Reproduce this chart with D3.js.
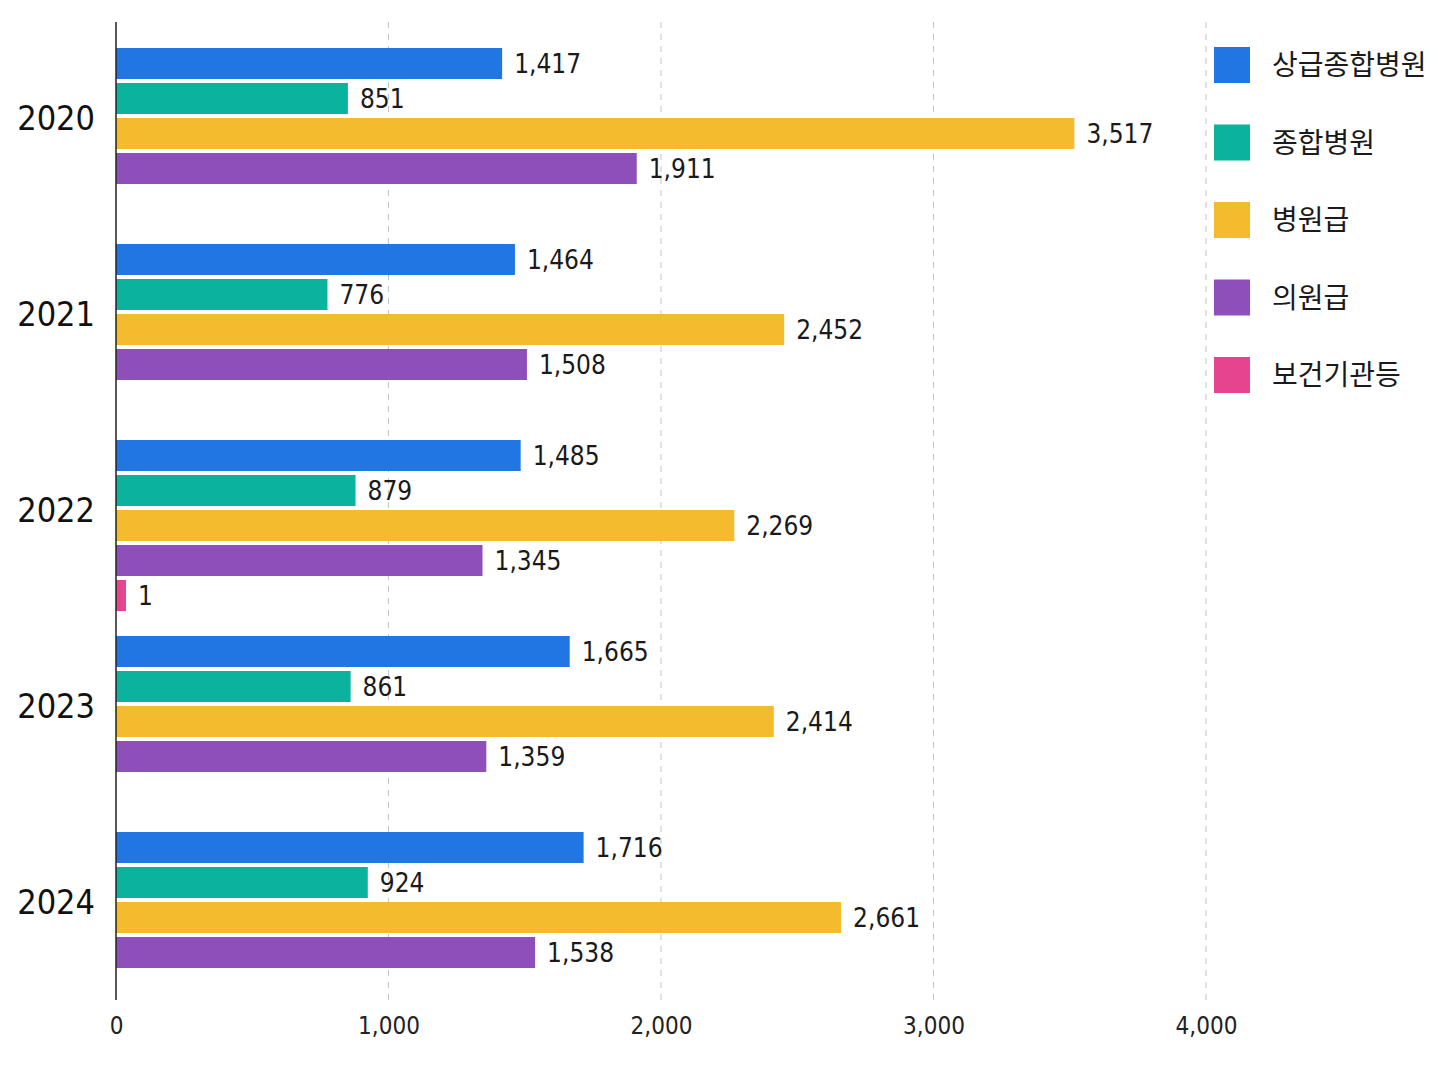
<!DOCTYPE html>
<html>
<head>
<meta charset="utf-8">
<script src="https://cdn.jsdelivr.net/npm/d3@7"></script>
<style>
  html, body { margin: 0; padding: 0; background: #fff; }
  svg { display: block; }
</style>
</head>
<body>
<svg id="chart" width="1448" height="1086"></svg>
<script>
// 데이터
var YEARS = ["2020", "2021", "2022", "2023", "2024"];
var SERIES = ["상급종합병원", "종합병원", "병원급", "의원급", "보건기관등"];
var COLORS = ["#2276e3", "#0bb39f", "#f4bb2f", "#8f4fba", "#e6448f"];
var TOP_GENERAL = [1417, 1464, 1485, 1665, 1716];
var GENERAL = [851, 776, 879, 861, 924];
var HOSPITAL = [3517, 2452, 2269, 2414, 2661];
var CLINIC = [1911, 1508, 1345, 1359, 1538];
var PUBLIC_HEALTH = [null, null, 1, null, null];
var X_TICKS = [0, 1000, 2000, 3000, 4000];

var VALUES = [TOP_GENERAL, GENERAL, HOSPITAL, CLINIC, PUBLIC_HEALTH];

var NUM_FONT = "'DejaVu Sans Condensed', 'Roboto', sans-serif";
var KR_FONT = "'Noto Sans CJK KR', 'Noto Sans', sans-serif";

var svg = d3.select("#chart");

var x = d3.scaleLinear().domain([0, 4000]).range([116, 1206]);

// 연도별 그룹
var y0 = d3.scaleBand().domain(YEARS).range([48, 48 + 5 * 196]).padding(0);
// 그룹 안의 막대
var y1 = d3.scaleBand().domain(SERIES).range([0, 171]).paddingInner(4 / 35).paddingOuter(0);

var fmt = d3.format(",");

// gridlines (dashed)
svg.append("g")
  .selectAll("line")
  .data(X_TICKS.filter(function(t) { return t > 0; }))
  .join("line")
  .attr("x1", function(d) { return x(d); })
  .attr("x2", function(d) { return x(d); })
  .attr("y1", 22)
  .attr("y2", 1000)
  .attr("stroke", "#c4c4c4")
  .attr("stroke-width", 1)
  .attr("stroke-dasharray", "6,6");

// x axis labels
var xAxis = d3.axisBottom(x).tickValues(X_TICKS).tickFormat(fmt).tickSize(0).tickPadding(0);
var gx = svg.append("g")
  .attr("transform", "translate(0,1017)")
  .call(xAxis);
gx.select(".domain").remove();
gx.selectAll("text")
  .attr("font-family", NUM_FONT)
  .attr("font-size", 24)
  .attr("fill", "#222")
  .attr("dy", "0.71em");

// rows flattened
var rows = [];
YEARS.forEach(function(yr, i) {
  SERIES.forEach(function(s, j) {
    var v = VALUES[j][i];
    if (v != null && v > 0)
      rows.push({ year: yr, series: s, value: v, color: COLORS[j] });
  });
});

var bars = svg.append("g");
bars.selectAll("rect")
  .data(rows)
  .join("rect")
  .attr("x", x(0))
  .attr("y", function(d) { return y0(d.year) + y1(d.series); })
  .attr("width", function(d) { return Math.max(x(d.value) - x(0), 10); })
  .attr("height", y1.bandwidth())
  .attr("fill", function(d) { return d.color; });

// value labels
bars.selectAll("text")
  .data(rows)
  .join("text")
  .attr("x", function(d) { return x(0) + Math.max(x(d.value) - x(0), 10) + 12; })
  .attr("y", function(d) { return y0(d.year) + y1(d.series) + y1.bandwidth() / 2; })
  .attr("dy", "0.36em")
  .attr("font-family", NUM_FONT)
  .attr("font-size", 26)
  .attr("fill", "#1a1a1a")
  .text(function(d) { return fmt(d.value); });

// year labels - 앞 4개 막대의 가운데
svg.append("g")
  .selectAll("text")
  .data(YEARS)
  .join("text")
  .attr("x", 95)
  .attr("y", function(d) {
    return y0(d) + (y1(SERIES[0]) + y1(SERIES[3]) + y1.bandwidth()) / 2 + 2;
  })
  .attr("dy", "0.36em")
  .attr("text-anchor", "end")
  .attr("font-family", NUM_FONT)
  .attr("font-size", 34)
  .attr("fill", "#111")
  .text(function(d) { return d; });

// y axis line
svg.append("line")
  .attr("x1", x(0)).attr("x2", x(0))
  .attr("y1", 22).attr("y2", 1000)
  .attr("stroke", "#222")
  .attr("stroke-width", 1.5);

// legend
var legend = svg.append("g").attr("transform", "translate(1214,47)");
var li = legend.selectAll("g")
  .data(SERIES)
  .join("g")
  .attr("transform", function(d, i) { return "translate(0," + (i * 77.5) + ")"; });
li.append("rect")
  .attr("width", 36)
  .attr("height", 36)
  .attr("fill", function(d, i) { return COLORS[i]; });
li.append("text")
  .attr("x", 58)
  .attr("y", 18)
  .attr("dy", "0.36em")
  .attr("font-family", KR_FONT)
  .attr("font-size", 28)
  .attr("fill", "#1a1a1a")
  .text(function(d) { return d; });
</script>
</body>
</html>
